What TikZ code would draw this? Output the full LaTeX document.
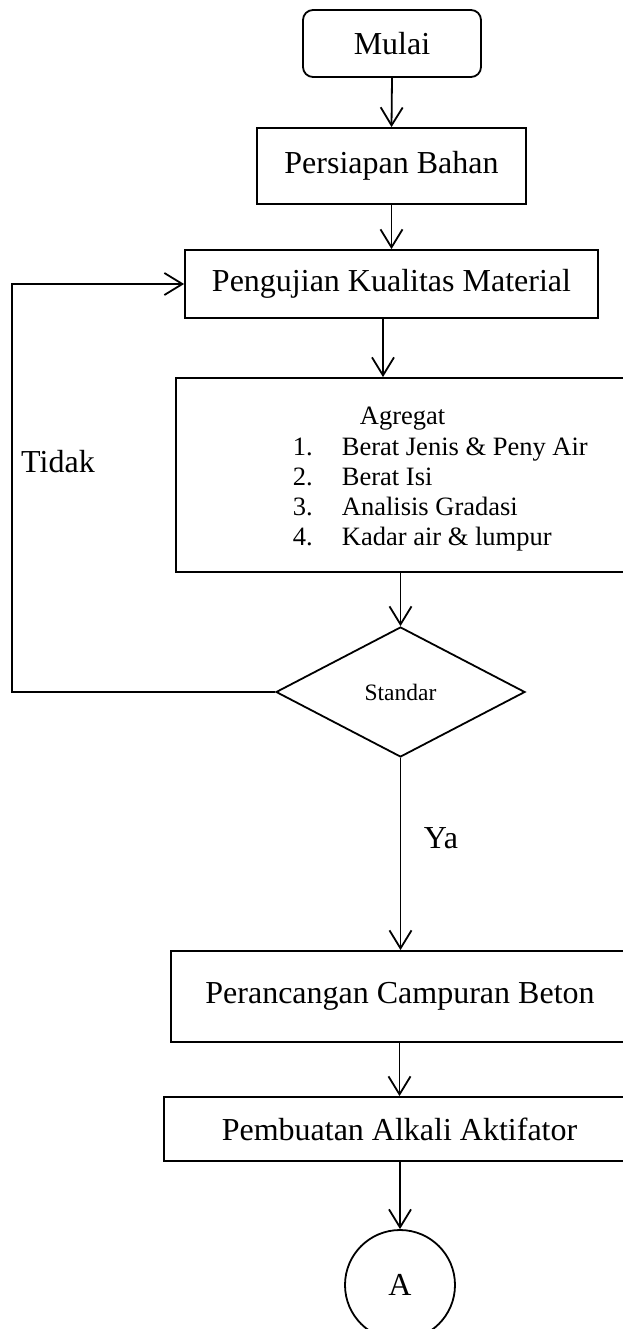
\documentclass[tikz,border=0pt]{standalone}
\usepackage{fontspec}
\setmainfont{Liberation Serif}
\usetikzlibrary{arrows.meta,shapes.geometric}
\begin{document}
\begin{tikzpicture}[x=1pt,y=-1pt,
  line width=1.8pt,
  bigfont/.style={font=\fontsize{32}{38}\selectfont},
  listfont/.style={font=\fontsize{26.5}{30}\selectfont},
  procbox/.style={draw, rectangle, inner sep=0pt, bigfont},
  flow/.style={-{Straight Barb[length=18pt,width=22pt,line width=1.8pt]}},
  plain/.style={inner sep=0pt}
]
\clip (0,0) rectangle (623,1329);
\useasboundingbox (0,0) rectangle (623,1329);

\node[procbox, rounded corners=10pt, minimum width=178pt, minimum height=67pt] (mulai) at (392,43.5) {Mulai};
\node[procbox, minimum width=269pt, minimum height=76pt] (bahan) at (391.5,166) {Persiapan Bahan};
\node[procbox, minimum width=413pt, minimum height=68pt] (uji) at (391.5,284) {Pengujian Kualitas Material};
\node[draw, rectangle, inner sep=0pt, minimum width=452pt, minimum height=194pt] (agg) at (402,475) {};
\node[plain, listfont, anchor=base west] (aggt) at (359,424.5) {Agregat};
\node[plain, listfont, anchor=base west] (n1) at (292,455.5) {1.};
\node[plain, listfont, anchor=base west] (t1) at (341,455.5) {Berat Jenis \& Peny Air};
\node[plain, listfont, anchor=base west] (n2) at (292,485.5) {2.};
\node[plain, listfont, anchor=base west] (t2) at (341,485.5) {Berat Isi};
\node[plain, listfont, anchor=base west] (n3) at (292,515.5) {3.};
\node[plain, listfont, anchor=base west] (t3) at (341,515.5) {Analisis Gradasi};
\node[plain, listfont, anchor=base west] (n4) at (292,545.5) {4.};
\node[plain, listfont, anchor=base west] (t4) at (341,545.5) {Kadar air \& lumpur};

\node[draw, diamond, inner sep=0pt, minimum width=249pt, minimum height=130pt, font=\fontsize{23.5}{28}\selectfont] (std) at (400.5,692) {Standar};

\node[procbox, minimum width=458pt, minimum height=91pt] (campur) at (400,996.5) {Perancangan Campuran Beton};
\node[procbox, minimum width=471pt, minimum height=64pt] (alkali) at (399.5,1129) {Pembuatan Alkali Aktifator};
\node[draw, circle, inner sep=0pt, minimum size=110pt, bigfont] (A) at (400,1285) {A};

\node[plain, bigfont] (tidak) at (58,462) {Tidak};
\node[plain, bigfont] (ya) at (441,838) {Ya};

\coordinate (lb) at (12,692);

\draw[flow] (mulai.south) -- (bahan.north);
\draw[flow] (bahan.south) -- (uji.north);
\draw[flow] ([xshift=-8.5pt]uji.south) -- ([xshift=-8.5pt]uji.south |- agg.north);
\draw[flow] (std.north |- agg.south) -- (std.north);
\draw[flow] (std.south) -- (std.south |- campur.north);
\draw[flow] (campur.south -| alkali.north) -- (alkali.north);
\draw[flow] (alkali.south -| A.north) -- (A.north);
\draw[flow] (std.west) -- (lb) |- (uji.west);
\end{tikzpicture}
\end{document}
